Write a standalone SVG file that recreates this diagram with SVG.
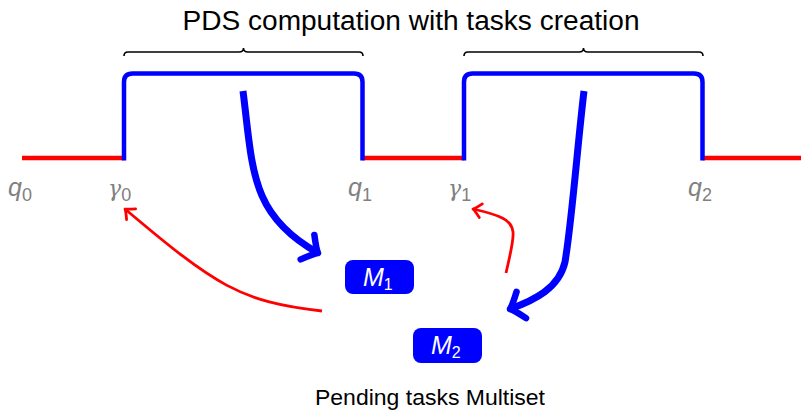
<svg xmlns="http://www.w3.org/2000/svg" width="801" height="410" viewBox="0 0 801 410">
  <style>
    .red { fill: none; stroke: #ff0000; stroke-width: 4.5; }
    .bump { fill: none; stroke: #0000ff; stroke-width: 4.5; }
    .brace { fill: none; stroke: #000; stroke-width: 1.6; }
    .lbl { font-family: "Liberation Sans", Arial, sans-serif; font-style: italic; font-size: 25px; fill: #808080; }
    .gam { font-family: "DejaVu Serif", serif; font-style: italic; font-size: 22px; fill: #808080; }
    .sub { font-family: "Liberation Sans", Arial, sans-serif; font-style: normal; font-size: 18px; }
    .txt { font-family: "Liberation Sans", Arial, sans-serif; fill: #000; }
    .box { fill: #0000ff; }
    .mlbl { font-family: "Liberation Sans", Arial, sans-serif; font-style: italic; font-size: 25px; fill: #fff; }
    .msub { font-style: normal; font-size: 16px; }
    .blue-arrow { fill: none; stroke: #0000ff; stroke-width: 7; stroke-linecap: butt; }
    .red-arrow { fill: none; stroke: #ff0000; stroke-width: 2.8; }
  </style>
  <defs>
    <marker id="bhead" markerUnits="userSpaceOnUse" orient="auto" refX="0" refY="0" markerWidth="40" markerHeight="40" viewBox="-20 -20 40 40" overflow="visible">
      <path d="M-12,-14 Q-3,-2 0,0 Q-3,2 -12,14" fill="none" stroke="#0000ff" stroke-width="6.5" stroke-linecap="round" stroke-linejoin="round"/>
    </marker>
    <marker id="rhead" markerUnits="userSpaceOnUse" orient="auto" refX="0" refY="0" markerWidth="30" markerHeight="30" viewBox="-15 -15 30 30" overflow="visible">
      <path d="M-8,-7 Q-2,-1 0,0 Q-2,1 -8,7" fill="none" stroke="#ff0000" stroke-width="2.8" stroke-linecap="round" stroke-linejoin="round"/>
    </marker>
  </defs>

  <g id="title">
    <text class="txt" x="411" y="30" font-size="27" text-anchor="middle" textLength="457" lengthAdjust="spacingAndGlyphs">PDS computation with tasks creation</text>
  </g>

  <g id="braces">
    <path class="brace" d="M124,56 Q124,52 128,52 L239,52 Q243.5,52 243.5,48 Q243.5,52 248,52 L359,52 Q363,52 363,56"/>
    <path class="brace" d="M464,56 Q464,52 468,52 L579,52 Q583.5,52 583.5,48 Q583.5,52 588,52 L699,52 Q703,52 703,56"/>
  </g>

  <g id="track">
    <line class="red" x1="22" y1="158" x2="124" y2="158"/>
    <line class="red" x1="362.5" y1="158" x2="464" y2="158"/>
    <line class="red" x1="702.5" y1="158" x2="801" y2="158"/>
    <path class="bump" d="M124,160.5 L124,82 Q124,73.5 132.5,73.5 L354,73.5 Q362.5,73.5 362.5,82 L362.5,160.5"/>
    <path class="bump" d="M464,160.5 L464,82 Q464,73.5 472.5,73.5 L694,73.5 Q702.5,73.5 702.5,82 L702.5,160.5"/>
  </g>

  <g id="labels">
    <text class="lbl" x="8" y="196">q<tspan class="sub" dy="5">0</tspan></text>
    <text class="gam" x="108" y="196">γ<tspan class="sub" dy="5">0</tspan></text>
    <text class="lbl" x="348" y="196">q<tspan class="sub" dy="5">1</tspan></text>
    <text class="gam" x="448" y="196">γ<tspan class="sub" dy="5">1</tspan></text>
    <text class="lbl" x="688" y="196">q<tspan class="sub" dy="5">2</tspan></text>
  </g>

  <g id="M1">
    <rect class="box" x="345" y="260" width="69" height="34" rx="8"/>
    <text class="mlbl" x="363" y="286">M<tspan class="msub" dy="4">1</tspan></text>
  </g>
  <g id="M2">
    <rect class="box" x="413" y="328" width="69" height="35" rx="8"/>
    <text class="mlbl" x="431" y="354">M<tspan class="msub" dy="4">2</tspan></text>
  </g>

  <g id="multiset-label">
    <text class="txt" x="430" y="405" font-size="22" text-anchor="middle" textLength="230" lengthAdjust="spacingAndGlyphs">Pending tasks Multiset</text>
  </g>

  <g id="connectors">
    <path class="blue-arrow" d="M243,91 C253,170 250,215 318,253" marker-end="url(#bhead)"/>
    <path class="blue-arrow" d="M584,91 C577,150 572,220 565,262 C559,288 535,300 510,309" marker-end="url(#bhead)"/>
    <path class="red-arrow" d="M322,311 C240,302 215,285 125,209" marker-end="url(#rhead)"/>
    <path class="red-arrow" d="M506,273 C510,255 514,240 513,232 C512,220 500,215 473,209" marker-end="url(#rhead)"/>
  </g>
</svg>
